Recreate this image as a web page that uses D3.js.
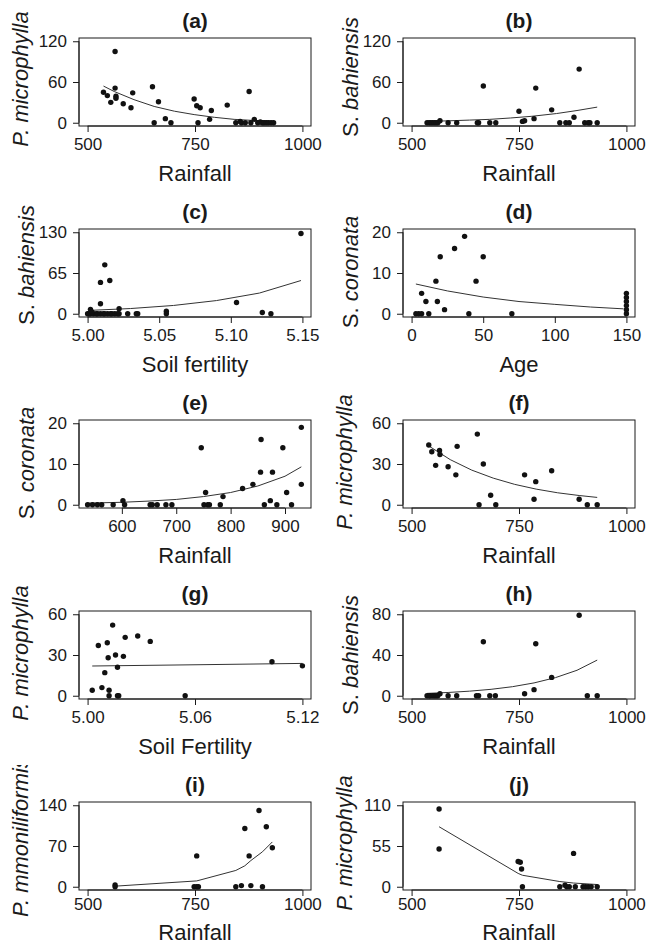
<!DOCTYPE html>
<html><head><meta charset="utf-8">
<script src="https://cdn.jsdelivr.net/npm/d3@7"></script>
<style>
html,body{margin:0;padding:0;background:#fff;}
svg{display:block;font-family:"Liberation Sans",Arial,sans-serif;}
</style></head><body>
<svg id="chart" width="646" height="945"></svg>
<script>
// ---------- DATA ----------
// (a) P. microphylla vs Rainfall
const aX = [537,546,554,564,564,566,566,583,601,605,651,655,665,681,694,748,754,762,757,784,788,825,845,855,858,867,876,880,888,896,902,907,911,916,921,927,933];
const aY = [45,40,30,105,51,39,36,28,22,44,53,0,31,6,0,35,25,22,0,5,18,26,0,2,0,0,46,0,5,0,1,0,0,0,0,0,0];
const aFitX = [537,562,608,655,702,748,795,841,888,934];
const aFitY = [54,46,34,24,17,12,8,5,3.3,2.2];
// (b) S. bahiensis vs Rainfall
const bX = [536,541,545,549,553,557,561,566,585,605,653,656,667,682,696,750,758,763,785,789,826,845,859,867,878,890,903,911,915,932];
const bY = [0,0,0,0,0,0,0,3,0,0,0,0,54,0,0,17,2,3,6,51,19,0,0,0,8,79,0,0,0,0];
const bFitX = [536,585,635,682,730,780,837,885,932];
const bFitY = [2,2.8,3.9,5,7,9.5,13.5,18,23];
// (c) S. bahiensis vs Soil fertility
const cX = [5.000,5.001,5.002,5.004,5.006,5.007,5.009,5.011,5.012,5.014,5.016,5.017,5.019,5.021,5.022,5.002,5.003,5.009,5.009,5.012,5.0155,5.022,5.028,5.034,5.035,5.055,5.055,5.104,5.122,5.128,5.149];
const cY = [0,0,0,0,0,0,0,0,0,0,0,0,0,0,0,7,3,16,50,78,53,8,0,0,0,4,0,18,2,0,128];
const cFitX = [5.001,5.03,5.06,5.09,5.12,5.149];
const cFitY = [5.3,8.3,13.2,21,33,53];
// (d) S. coronata vs Age
const dX = [3,5,7,7,10,12,17,18,20,23,30,37,40,45,50,70,150,150,150,150,150,150];
const dY = [0,0,0,5,3,0,8,3,14,1,16,19,0,8,14,0,0,1,2,3,4,5];
const dFitX = [3,25,50,75,100,125,148];
const dFitY = [7.3,5.6,4.1,3.0,2.3,1.65,1.2];
// (e) S. coronata vs Rainfall
const eX = [537,546,555,563,584,602,605,652,656,665,681,692,746,751,754,758,761,781,786,822,841,855,856,862,873,877,885,896,903,912,930,930];
const eY = [0,0,0,0,0,1,0,0,0,0,0,0,14,0,3,0,0,0,2,4,5,8,16,0,1,8,0,14,3,0,19,5];
const eFitX = [537,600,650,700,750,800,850,900,930];
const eFitY = [0.4,0.6,0.9,1.3,2.0,3.0,4.6,7.0,9.3];
// (f) P. microphylla vs Rainfall
const fX = [540,547,556,565,566,585,603,606,653,657,667,684,696,763,785,789,826,890,909,932];
const fY = [44,39,29,40,37,28,22,43,52,0,30,7,0,22,4,17,25,4,0,0];
const fFitX = [540,590,640,690,740,790,840,890,932];
const fFitY = [43.3,33.2,25.5,19.6,15,11.5,8.8,6.8,5.4];
// (g) P. microphylla vs Soil Fertility
const gX = [5.0026,5.006,5.008,5.0096,5.011,5.0115,5.012,5.012,5.014,5.0156,5.0167,5.0167,5.0174,5.020,5.021,5.028,5.035,5.0545,5.103,5.120];
const gY = [4,37,6,17,39,28,4,0,52,30,21,0,0,29,43,44,40,0,25,22];
const gFitX = [5.0026,5.06,5.12];
const gFitY = [21.9,22.8,23.8];
// (h) S. bahiensis vs Rainfall
const hX = [536,541,544,549,553,557,561,566,585,605,651,656,667,682,695,763,785,789,826,890,909,932];
const hY = [0,0,0,0,0,0,0,2,0,0,0,0,53,0,0,2,6,51,18,79,0,0];
const hFitX = [536,585,635,685,735,785,835,885,932];
const hFitY = [2.3,3.2,4.5,6.3,8.9,12.6,17.8,25,35];
// (i) P. mmoniliformis vs Rainfall
const iX = [564,564,748,754,754,758,845,858,866,876,880,899,907,916,930];
const iY = [3,0,0,53,0,0,0,2,100,53,2,131,0,103,67];
const iFitX = [564,754,845,866,880,907,930];
const iFitY = [1,10,28,36,45,60,77];
// (j) P. microphylla vs Rainfall
const jX = [564,564,748,753,756,758,845,857,861,867,877,881,899,905,911,918,932];
const jY = [105,51,34,33,24,0,0,2,0,0,45,0,0,0,0,0,0];
const jFitX = [564,748,758,845,877,932];
const jFitY = [81,18,15.5,7,5,3];

// tick labels
const rainTicks = [500,750,1000];
const rainTicksE = [600,700,800,900];
const soilTicksC = [5.00,5.05,5.10,5.15];
const soilTicksG = [5.00,5.06,5.12];
const ageTicks = [0,50,100,150];
const yTicksA = [0,60,120];
const yTicksC = [0,65,130];
const yTicksD = [0,10,20];
const yTicksF = [0,30,60];
const yTicksH = [0,40,80];
const yTicksI = [0,70,140];
const yTicksJ = [0,55,110];
const titles = ["(a)","(b)","(c)","(d)","(e)","(f)","(g)","(h)","(i)","(j)"];
const xLabels = ["Rainfall","Rainfall","Soil fertility","Age","Rainfall","Rainfall","Soil Fertility","Rainfall","Rainfall","Rainfall"];
const genus = ["P.","S.","S.","S.","S.","P.","P.","S.","P.","P."];
const species = ["microphylla","bahiensis","bahiensis","coronata","coronata","microphylla","microphylla","bahiensis","mmoniliformis","microphylla"];

const panels = [
  {x:aX,y:aY,fx:aFitX,fy:aFitY,xlim:[500,1000],xt:rainTicks,ylim:[0,120],yt:yTicksA,xf:d3.format("d")},
  {x:bX,y:bY,fx:bFitX,fy:bFitY,xlim:[500,1000],xt:rainTicks,ylim:[0,120],yt:yTicksA,xf:d3.format("d")},
  {x:cX,y:cY,fx:cFitX,fy:cFitY,xlim:[5.00,5.15],xt:soilTicksC,ylim:[0,130],yt:yTicksC,xf:d3.format(".2f")},
  {x:dX,y:dY,fx:dFitX,fy:dFitY,xlim:[0,150],xt:ageTicks,ylim:[0,20],yt:yTicksD,xf:d3.format("d")},
  {x:eX,y:eY,fx:eFitX,fy:eFitY,xlim:[537,932],xt:rainTicksE,ylim:[0,20],yt:yTicksD,xf:d3.format("d")},
  {x:fX,y:fY,fx:fFitX,fy:fFitY,xlim:[500,1000],xt:rainTicks,ylim:[0,60],yt:yTicksF,xf:d3.format("d")},
  {x:gX,y:gY,fx:gFitX,fy:gFitY,xlim:[5.00,5.12],xt:soilTicksG,ylim:[0,60],yt:yTicksF,xf:d3.format(".2f")},
  {x:hX,y:hY,fx:hFitX,fy:hFitY,xlim:[500,1000],xt:rainTicks,ylim:[0,80],yt:yTicksH,xf:d3.format("d")},
  {x:iX,y:iY,fx:iFitX,fy:iFitY,xlim:[500,1000],xt:rainTicks,ylim:[0,140],yt:yTicksI,xf:d3.format("d")},
  {x:jX,y:jY,fx:jFitX,fy:jFitY,xlim:[500,1000],xt:rainTicks,ylim:[0,110],yt:yTicksJ,xf:d3.format("d")}
];

// ---------- LAYOUT ----------
const colLeft = [79, 403];
const boxW = 232, boxH = 88;
const rowTop = [38, 229, 420, 611, 802];
const ylabShift = [-3,-5,-8,-1,-1,-2,-2,0,-9,-3];
const ink = "#1a1a1a";

const svg = d3.select("#chart");
svg.append("rect").attr("width",646).attr("height",945).attr("fill","#fff");
svg.append("defs").append("clipPath").attr("id","clipI").attr("clipPathUnits","userSpaceOnUse")
  .append("rect").attr("x",0).attr("y",765).attr("width",646).attr("height",200);

function ext(l){ const r = l[1]-l[0]; return [l[0]-0.04*r, l[1]+0.04*r]; }

panels.forEach((p, i) => {
  const col = i % 2, row = Math.floor(i/2);
  const L = colLeft[col], T = rowTop[row], B = T + boxH, R = L + boxW;
  const x = d3.scaleLinear().domain(ext(p.xlim)).range([L, R]);
  const y = d3.scaleLinear().domain(ext(p.ylim)).range([B, T]);
  const g = svg.append("g");
  const lastRow = row === 4;

  // box
  g.append("rect").attr("x",L).attr("y",T).attr("width",boxW).attr("height",boxH)
    .attr("fill","none").attr("stroke",ink).attr("stroke-width",1);

  // x axis
  const xa = g.append("g").attr("transform",`translate(0,${B})`)
    .call(d3.axisBottom(x).tickValues(p.xt).tickFormat(p.xf).tickSize(6).tickPadding(lastRow?2:6));
  // y axis
  const ya = g.append("g").attr("transform",`translate(${L},0)`)
    .call(d3.axisLeft(y).tickValues(p.yt).tickFormat(d3.format("d")).tickSize(6).tickPadding(6));
  [xa, ya].forEach(a => {
    a.attr("font-family",'"Liberation Sans",Arial,sans-serif').attr("font-size",17);
    a.select(".domain").attr("stroke",ink).attr("stroke-width",1);
    a.selectAll(".tick line").attr("stroke",ink);
    a.selectAll(".tick text").attr("fill",ink);
  });
  // R style axis lines only between first and last tick
  xa.select(".domain").attr("d",`M${x(p.xt[0])},0H${x(p.xt[p.xt.length-1])}`);
  ya.select(".domain").attr("d",`M0,${y(p.yt[0])}V${y(p.yt[p.yt.length-1])}`);

  // fitted curve
  const fit = p.fx.map((v,k)=>[v,p.fy[k]]);
  g.append("path").datum(fit)
    .attr("d", d3.line().x(d=>x(d[0])).y(d=>y(d[1])))
    .attr("fill","none").attr("stroke","#333").attr("stroke-width",1);

  // points
  const pts = p.x.map((v,k)=>[v,p.y[k]]);
  g.selectAll("circle.pt").data(pts).join("circle").attr("class","pt")
    .attr("cx",d=>x(d[0])).attr("cy",d=>y(d[1])).attr("r",2.7).attr("fill","#111");

  // title
  g.append("text").attr("x",(L+R)/2).attr("y",T-10).attr("text-anchor","middle")
    .attr("font-size",21).attr("font-weight","bold").attr("fill",ink).text(titles[i]);

  // x label
  g.append("text").attr("x",(L+R)/2).attr("y",B+(lastRow?50:55)).attr("text-anchor","middle")
    .attr("font-size",22).attr("fill",ink).text(xLabels[i]);

  // y label (wrapped in a group so the clip for panel (i) works in page coordinates)
  const isP = genus[i] === "P.";
  const lx = L - (isP ? 51 : 45);
  const ly = (T+B)/2 + ylabShift[i];
  const lg = g.append("g");
  if (i === 8) lg.attr("clip-path","url(#clipI)");
  const yl = lg.append("text").attr("transform",`translate(${lx},${ly}) rotate(-90)`)
    .attr("text-anchor","middle").attr("font-size",22).attr("fill",ink);
  yl.append("tspan").attr("font-style", isP ? "italic" : "normal").text(genus[i] + " ");
  yl.append("tspan").attr("font-style","italic").text(species[i]);
});
</script>
</body></html>
